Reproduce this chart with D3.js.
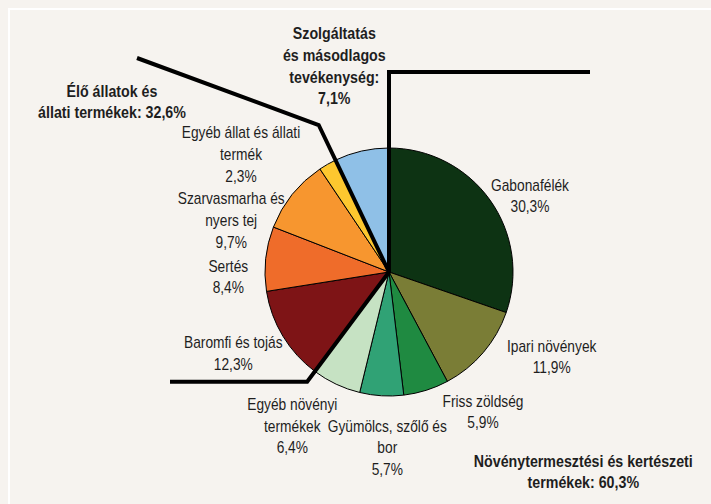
<!DOCTYPE html>
<html>
<head>
<meta charset="utf-8">
<script src="https://cdn.jsdelivr.net/npm/d3@7"></script>
<style>
  body { margin: 0; background: #f6f3ef; }
  svg { display: block; }
  text { font-family: "Liberation Sans", Arial, sans-serif; font-size: 16px; fill: #1e1e1e; }
  .bold { font-weight: bold; }
</style>
</head>
<body>
<svg id="chart" width="711" height="504"></svg>
<script>
// slice data, clockwise from 12 o'clock
const categories = [
  ["Gabonafélék"],
  ["Ipari növények"],
  ["Friss zöldség"],
  ["Gyümölcs, szőlő és", "bor"],
  ["Egyéb növényi", "termékek"],
  ["Baromfi és tojás"],
  ["Sertés"],
  ["Szarvasmarha és", "nyers tej"],
  ["Egyéb állat és állati", "termék"],
  ["Szolgáltatás", "és másodlagos", "tevékenység:"]
];
const values = [30.3, 11.9, 5.9, 5.7, 6.4, 12.3, 8.4, 9.7, 2.3, 7.1];
const colors = ["#0d3313", "#7a7d36", "#1f8a41", "#30a275", "#c6e2c3",
                "#7e1416", "#ef6c2a", "#f7962f", "#fdc72f", "#8fc0e7"];
const boldSlice = [false, false, false, false, false, false, false, false, false, true];

// group totals
const groupLabels = [
  ["Élő állatok és", "állati termékek: 32,6%"],
  ["Növénytermesztési és kertészeti", "termékek: 60,3%"]
];

// layout
const cx = 389, cy = 272, r = 124, lineH = 21.7;
const narrow = 0.86, narrowBold = 0.89;   // no narrow font installed, squeeze instead
const labelPos = [[530, 190.7], [551.7, 351.7], [483, 406.7], [387.3, 431.7], [292.3, 410],
                  [233.3, 348.3], [228.3, 271.7], [231.2, 204.3], [241, 138.3], [334.3, 39.3]];
const groupPos = [[112, 96.7], [583.3, 466.7]];

const svg = d3.select("#chart");

// white frame lines
svg.append("line").attr("x1", 8).attr("y1", 9).attr("x2", 711).attr("y2", 9)
  .attr("stroke", "#fff").attr("stroke-width", 2);
svg.append("line").attr("x1", 9).attr("y1", 8).attr("x2", 9).attr("y2", 504)
  .attr("stroke", "#fff").attr("stroke-width", 2);

const pie = d3.pie().sort(null).value(d => d);
const arcs = pie(values);
const arc = d3.arc().innerRadius(0).outerRadius(r);

const g = svg.append("g").attr("transform", "translate(" + cx + "," + cy + ")");

g.selectAll("path.slice")
  .data(arcs)
  .enter().append("path")
  .attr("class", "slice")
  .attr("d", arc)
  .attr("fill", (d, i) => colors[i])
  .attr("stroke", "#000")
  .attr("stroke-width", 1);

// point on a slice boundary ray at a given page y
function rayToY(a, y) {
  const k = (cy - y) / Math.cos(a);
  return [cx + Math.sin(a) * k, y];
}

// group separator lines follow the slice boundaries
const aTop = arcs[0].startAngle;     // Szolgáltatás | Gabonafélék
const aBottom = arcs[5].startAngle;  // Egyéb növényi | Baromfi
const aLeft = arcs[9].startAngle;    // Egyéb állat | Szolgáltatás

const separators = [
  [[cx, cy], rayToY(aTop, 72), [590, 72]],
  [[cx, cy], rayToY(aBottom, 381.7), [170, 381.7]],
  [[cx, cy], rayToY(aLeft, 125), [137, 58]]
];

svg.selectAll("path.sep")
  .data(separators)
  .enter().append("path")
  .attr("class", "sep")
  .attr("d", d3.line())
  .attr("fill", "none")
  .attr("stroke", "#000")
  .attr("stroke-width", 4)
  .attr("stroke-linejoin", "miter");

// multi-line centred label, squeezed horizontally
function addLabel(lines, pos, bold) {
  const t = svg.append("text")
    .attr("text-anchor", "middle")
    .attr("class", bold ? "bold" : null)
    .attr("transform", "translate(" + pos[0] + "," + pos[1] + ") scale(" + (bold ? narrowBold : narrow) + ",1)");
  lines.forEach((s, j) => {
    t.append("tspan").attr("x", 0).attr("y", j * lineH).text(s);
  });
}

const fmt = v => d3.format(".1f")(v).replace(".", ",") + "%";

arcs.forEach((d, i) => {
  addLabel(categories[i].concat([fmt(values[i])]), labelPos[i], boldSlice[i]);
});

groupLabels.forEach((lines, i) => addLabel(lines, groupPos[i], true));
</script>
</body>
</html>
